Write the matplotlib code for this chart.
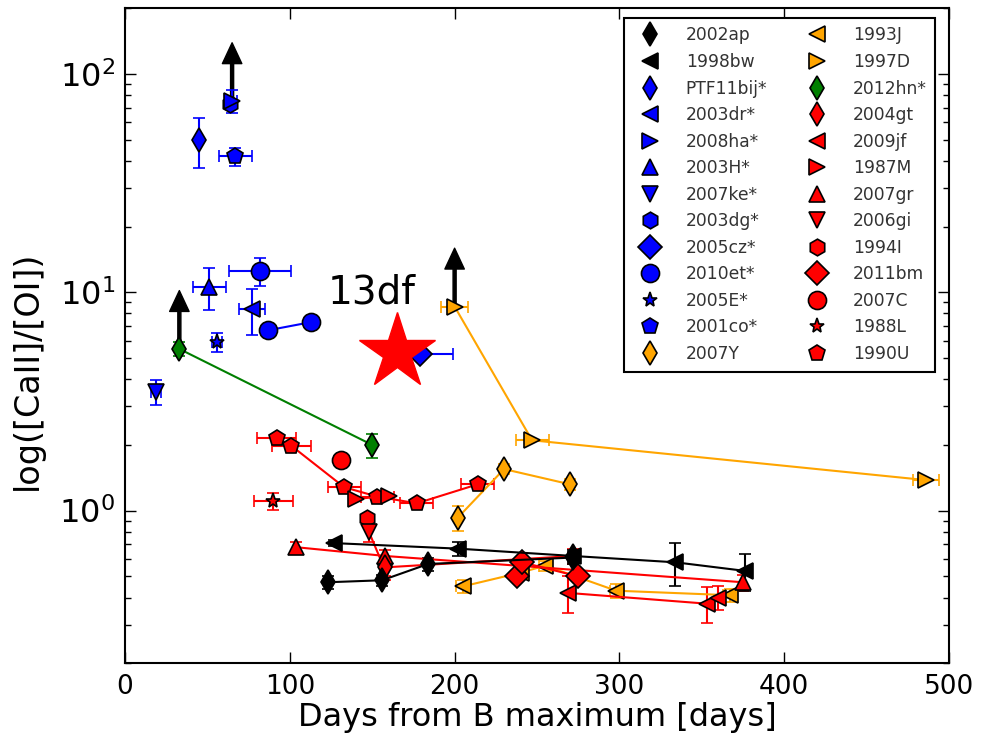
import matplotlib
matplotlib.use("Agg")
import matplotlib.pyplot as plt
from matplotlib.lines import Line2D

# ---- data (days from B max, [CaII]/[OI]) ----
sn2002ap_x = [123, 156, 184, 272]
sn2002ap_y = [0.47, 0.48, 0.57, 0.61]
sn2002ap_yerr = [0.03, 0.03, 0.04, 0.04]

sn1998bw_x = [127, 202, 272, 334, 376]
sn1998bw_y = [0.71, 0.67, 0.62, 0.58, 0.53]
sn1998bw_yerr = [0.02, 0.05, 0.04, 0.13, 0.10]

ptf11bij_x = [45]
ptf11bij_y = [50]
ptf11bij_yerr = [13]

sn2003dr_x = [77]
sn2003dr_y = [8.4]
sn2003dr_xerr = [8]
sn2003dr_yerr = [2.0]

sn2008ha_x = [65]
sn2008ha_y = [75]
sn2008ha_xerr = [3]
sn2008ha_yerr = [9]

sn2003h_x = [51]
sn2003h_y = [10.6]
sn2003h_xerr = [10]
sn2003h_yerr = [2.3]

sn2007ke_x = [19]
sn2007ke_y = [3.5]
sn2007ke_xerr = [3]
sn2007ke_yerr = [0.45]

sn2003dg_x = [64]
sn2003dg_y = [73]

sn2005cz_x = [179]
sn2005cz_y = [5.2]
sn2005cz_xerr = [20]

sn2010et_x = [87, 113]
sn2010et_y = [6.7, 7.3]
sn2010et_early_x = [82]
sn2010et_early_y = [12.5]
sn2010et_early_xerr = [19]
sn2010et_early_yerr = [1.8]

sn2005e_x = [56]
sn2005e_y = [5.9]
sn2005e_xerr = [3]
sn2005e_yerr = [0.6]

sn2001co_x = [67]
sn2001co_y = [42]
sn2001co_xerr = [10]
sn2001co_yerr = [4]

sn2007y_x = [202, 230, 270]
sn2007y_y = [0.93, 1.55, 1.32]
sn2007y_yerr = [0.12, 0.08, 0.08]

sn1993j_x = [205, 240, 255, 298, 367]
sn1993j_y = [0.45, 0.52, 0.56, 0.43, 0.41]
sn1993j_xerr = [4, 4, 4, 4, 4]
sn1993j_yerr = [0.03, 0.03, 0.03, 0.03, 0.03]

sn1997d_x = [200, 247, 486]
sn1997d_y = [8.6, 2.1, 1.38]
sn1997d_xerr = [8, 10, 8]

sn2012hn_x = [33, 150]
sn2012hn_y = [5.5, 2.0]
sn2012hn_yerr = [0.4, 0.25]

sn2004gt_x = [158, 272]
sn2004gt_y = [0.55, 0.62]
sn2004gt_yerr = [0.05, 0.05]

sn2009jf_x = [269, 353, 360]
sn2009jf_y = [0.42, 0.375, 0.40]
sn2009jf_yerr = [0.08, 0.07, 0.05]

sn1987m_x = [140, 160]
sn1987m_y = [1.13, 1.17]

sn2007gr_x = [104, 158, 375]
sn2007gr_y = [0.68, 0.62, 0.47]
sn2007gr_yerr = [0.04, 0.04, 0.04]

sn2006gi_x = [148, 158]
sn2006gi_y = [0.80, 0.53]
sn2006gi_yerr = [0.08, 0.05]

sn1994i_x = [147]
sn1994i_y = [0.93]

sn2011bm_x = [238, 241, 275]
sn2011bm_y = [0.50, 0.58, 0.50]

sn2007c_x = [131]
sn2007c_y = [1.70]

sn1988l_x = [90]
sn1988l_y = [1.11]
sn1988l_xerr = [12]
sn1988l_yerr = [0.1]

sn1990u_x = [92, 101, 133, 153, 177, 214]
sn1990u_y = [2.15, 1.98, 1.28, 1.16, 1.08, 1.32]
sn1990u_xerr = [12, 12, 10, 10, 10, 10]

sn2013df_x = [165]
sn2013df_y = [5.3]

orange = "#ffa500"
green = "#007f00"

fig = plt.figure(figsize=(9.84, 7.37), dpi=100)
ax = fig.add_axes([0.127, 0.100, 0.8375, 0.889])

sizes = {"d": 12, "D": 12, "h": 12, "p": 12, "*": 11, "o": 13}


def sn(x, y, marker, color, xerr=None, yerr=None, line=True, z=3):
    ax.errorbar(x, y, xerr=xerr, yerr=yerr, fmt=marker + ("-" if line else ""),
                color=color, mfc=color, mec="k", mew=1.2, ecolor=color,
                ms=sizes.get(marker, 12), lw=1.5, elinewidth=1.5, capsize=4,
                capthick=1.5, zorder=z)


def arrow(x, y):
    ax.annotate("", xy=(x, y * 1.85), xytext=(x, y),
                arrowprops=dict(facecolor="k", edgecolor="k", width=2.2,
                                headwidth=14, headlength=15, shrink=0), zorder=2)


# blue
sn(sn2007ke_x, sn2007ke_y, "v", "b", xerr=sn2007ke_xerr, yerr=sn2007ke_yerr)
sn(ptf11bij_x, ptf11bij_y, "d", "b", yerr=ptf11bij_yerr)
sn(sn2003h_x, sn2003h_y, "^", "b", xerr=sn2003h_xerr, yerr=sn2003h_yerr)
sn(sn2005e_x, sn2005e_y, "*", "b", xerr=sn2005e_xerr, yerr=sn2005e_yerr)
sn(sn2003dg_x, sn2003dg_y, "h", "b")
sn(sn2008ha_x, sn2008ha_y, ">", "b", xerr=sn2008ha_xerr, yerr=sn2008ha_yerr)
sn(sn2001co_x, sn2001co_y, "p", "b", xerr=sn2001co_xerr, yerr=sn2001co_yerr)
sn(sn2003dr_x, sn2003dr_y, "<", "b", xerr=sn2003dr_xerr, yerr=sn2003dr_yerr)
sn(sn2010et_x, sn2010et_y, "o", "b")
sn(sn2010et_early_x, sn2010et_early_y, "o", "b",
   xerr=sn2010et_early_xerr, yerr=sn2010et_early_yerr)
sn(sn2005cz_x, sn2005cz_y, "D", "b", xerr=sn2005cz_xerr)
arrow(sn2008ha_x[0], sn2008ha_y[0])

# green
sn(sn2012hn_x, sn2012hn_y, "d", green, yerr=sn2012hn_yerr)
arrow(sn2012hn_x[0], sn2012hn_y[0])

# orange
sn(sn1997d_x, sn1997d_y, ">", orange, xerr=sn1997d_xerr)
sn(sn2007y_x, sn2007y_y, "d", orange, yerr=sn2007y_yerr)
sn(sn1993j_x, sn1993j_y, "<", orange, xerr=sn1993j_xerr, yerr=sn1993j_yerr)
arrow(sn1997d_x[0], sn1997d_y[0])

# red
sn(sn1988l_x, sn1988l_y, "*", "r", xerr=sn1988l_xerr, yerr=sn1988l_yerr)
sn(sn1990u_x, sn1990u_y, "p", "r", xerr=sn1990u_xerr)
sn(sn2007c_x, sn2007c_y, "o", "r")
sn(sn1987m_x, sn1987m_y, ">", "r")
sn(sn1994i_x, sn1994i_y, "h", "r")
sn(sn2006gi_x, sn2006gi_y, "v", "r", yerr=sn2006gi_yerr)
sn(sn2007gr_x, sn2007gr_y, "^", "r", yerr=sn2007gr_yerr)
sn(sn2004gt_x, sn2004gt_y, "d", "r", yerr=sn2004gt_yerr)
sn(sn2009jf_x, sn2009jf_y, "<", "r", yerr=sn2009jf_yerr)
sn(sn2011bm_x, sn2011bm_y, "D", "r")

# black
sn(sn1998bw_x, sn1998bw_y, "<", "k", yerr=sn1998bw_yerr)
sn(sn2002ap_x, sn2002ap_y, "d", "k", yerr=sn2002ap_yerr)

# SN 2013df
ax.plot(sn2013df_x, sn2013df_y, "*", color="r", mec="r", ms=57, zorder=6)
ax.text(123, 8.86, "13df", fontsize=28, ha="left", va="baseline", zorder=7)

ax.set_yscale("log")
ax.set_xlim(0, 500)
ax.set_ylim(0.2, 200)
ax.set_xlabel("Days from B maximum [days]", fontsize=23, labelpad=1)
ax.set_ylabel("log([CaII]/[OI])", fontsize=24)
ax.yaxis.set_label_coords(-0.099, 0.447)
ax.tick_params(which="both", direction="in", top=True, right=True)
ax.tick_params(which="major", length=8, width=1)
ax.tick_params(which="minor", length=4, width=1)
ax.tick_params(axis="x", labelsize=19, pad=8)
ax.tick_params(axis="y", labelsize=23, pad=7)
for s in ax.spines.values():
    s.set_linewidth(1.5)

names = ["2002ap", "1998bw", "PTF11bij*", "2003dr*", "2008ha*", "2003H*",
         "2007ke*", "2003dg*", "2005cz*", "2010et*", "2005E*", "2001co*",
         "2007Y", "1993J", "1997D", "2012hn*", "2004gt", "2009jf", "1987M",
         "2007gr", "2006gi", "1994I", "2011bm", "2007C", "1988L", "1990U"]
markers = ["d", "<", "d", "<", ">", "^", "v", "h", "D", "o", "*", "p",
           "d", "<", ">", "d", "d", "<", ">", "^", "v", "h", "D", "o", "*", "p"]
colors = ["k", "k"] + ["b"] * 10 + [orange, orange, orange, green] + ["r"] * 10
handles = [Line2D([], [], ls="none", marker=m, color=c, mec="k", mew=1.2,
                  ms=sizes.get(m, 12)) for m, c in zip(markers, colors)]
leg = ax.legend(handles, names, loc="upper right", bbox_to_anchor=(0.983, 0.985),
                borderaxespad=0, ncol=2, numpoints=1, fontsize=12.3,
                labelspacing=0.5, handletextpad=1.1, columnspacing=1.9,
                borderpad=0.5, fancybox=False, framealpha=1, edgecolor="k",
                labelcolor="#333333")
leg.get_frame().set_linewidth(1.5)
leg.set_zorder(10)

fig.savefig("out.png", dpi=100)
